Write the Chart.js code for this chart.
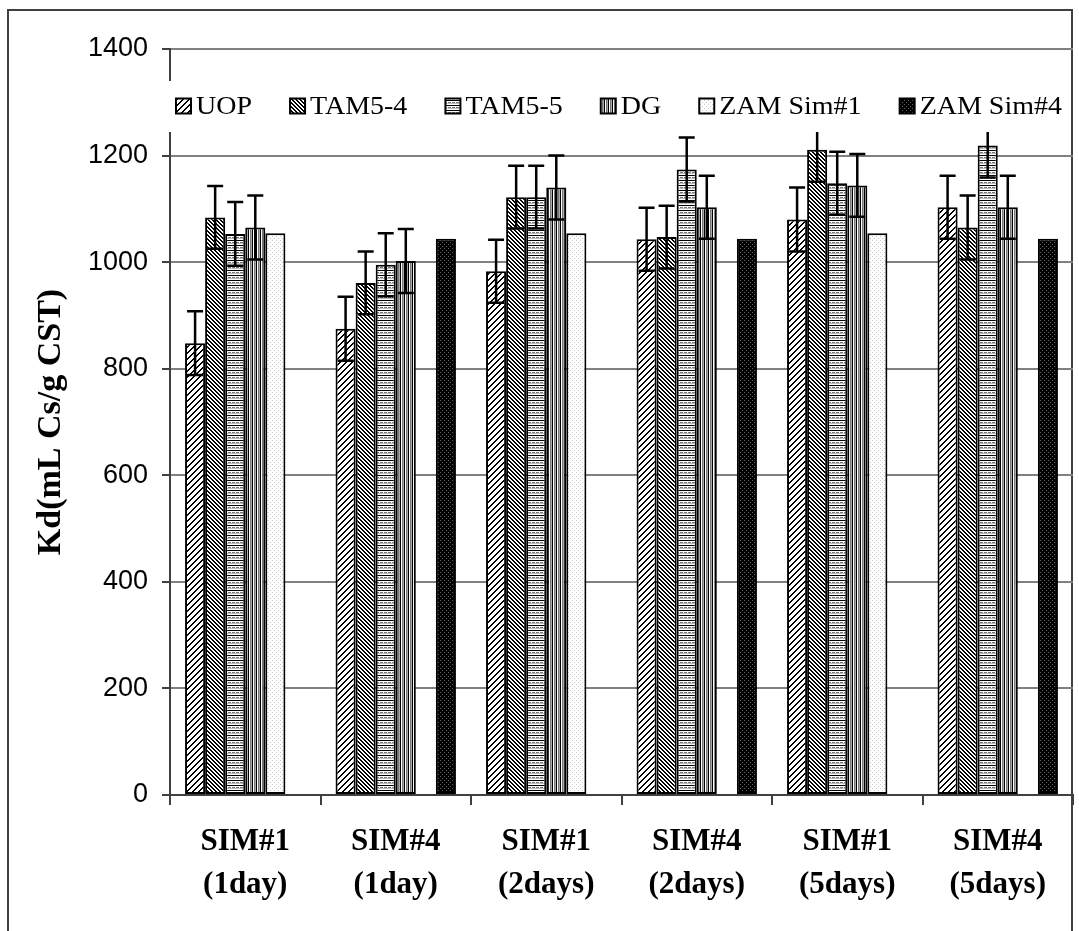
<!DOCTYPE html>
<html>
<head>
<meta charset="utf-8">
<script src="https://cdn.jsdelivr.net/npm/chart.js@4/dist/chart.umd.min.js"></script>
<style>
html,body{margin:0;padding:0;background:#fff;}
#wrap{width:1079px;height:931px;position:relative;}
</style>
</head>
<body>
<div id="wrap"><canvas id="c" width="1079" height="931"></canvas></div>
<script>
// ---- data ----
const categories = [['SIM#1','(1day)'], ['SIM#4','(1day)'], ['SIM#1','(2days)'], ['SIM#4','(2days)'], ['SIM#1','(5days)'], ['SIM#4','(5days)']];
const seriesNames = ['UOP', 'TAM5-4', 'TAM5-5', 'DG', 'ZAM Sim#1', 'ZAM Sim#4'];
const uop      = [848, 875, 983, 1043, 1080, 1103];
const tam54    = [1084, 961, 1122, 1047, 1211, 1065];
const tam55    = [1053, 995, 1122, 1174, 1148, 1219];
const dg       = [1065, 1002, 1140, 1103, 1144, 1103];
const zamSim1  = [1054, null, 1054, null, 1054, null];
const zamSim4  = [null, 1044, null, 1044, null, 1044];
const uopErr   = [60, 60, 59, 59, 60, 59];
const tam54Err = [59, 59, 59, 59, 60, 60];
const tam55Err = [60, 59, 59, 60, 59, 60];
const dgErr    = [60, 60, 60, 59, 59, 59];
const yTicks   = [0, 200, 400, 600, 800, 1000, 1200, 1400];
const yTitle   = 'Kd(mL Cs/g CST)';

// ---- patterns ----
function makePattern(w, h, draw) {
  const c = document.createElement('canvas');
  c.width = w; c.height = h;
  const g = c.getContext('2d');
  draw(g, w, h);
  return g.createPattern(c, 'repeat');
}
const patUOP = makePattern(6, 6, (g, w, h) => {
  g.fillStyle = '#fff'; g.fillRect(0, 0, w, h);
  g.fillStyle = '#000';
  for (let i = 0; i < 6; i++) {
    g.fillRect((5 - i + 6) % 6, i, 2, 1);
    g.fillRect((5 - i + 7) % 6, i, 1, 1);
  }
});
const patTAM54 = makePattern(4, 4, (g, w, h) => {
  g.fillStyle = '#fff'; g.fillRect(0, 0, w, h);
  g.fillStyle = '#000';
  for (let i = 0; i < 4; i++) {
    g.fillRect(i % 4, i, 1, 1);
    g.fillRect((i + 1) % 4, i, 1, 1);
  }
});
const patTAM55 = makePattern(4, 5, (g, w, h) => {
  g.fillStyle = '#fff'; g.fillRect(0, 0, w, h);
  g.fillStyle = '#000'; g.fillRect(0, 0, 4, 1);
  g.fillStyle = '#777'; g.fillRect(0, 2, 3, 1);
  g.fillStyle = '#bbb'; g.fillRect(0, 3, 4, 1);
});
const patDG = makePattern(4, 4, (g, w, h) => {
  g.fillStyle = '#fff'; g.fillRect(0, 0, w, h);
  g.fillStyle = '#000'; g.fillRect(0, 0, 1, 4);
  g.fillStyle = '#777'; g.fillRect(2, 0, 1, 4);
  g.fillStyle = '#aaa'; g.fillRect(3, 0, 1, 4);
});
const patZ1 = makePattern(4, 4, (g, w, h) => {
  g.fillStyle = '#fff'; g.fillRect(0, 0, w, h);
  g.fillStyle = '#c8c8c8'; g.fillRect(0, 0, 1, 1); g.fillRect(2, 2, 1, 1);
});
const patZ4 = makePattern(4, 4, (g, w, h) => {
  g.fillStyle = '#000'; g.fillRect(0, 0, w, h);
  g.fillStyle = '#666'; g.fillRect(0, 0, 1, 1); g.fillRect(2, 2, 1, 1);
});

const values = [uop, tam54, tam55, dg, zamSim1, zamSim4];
const errors = [uopErr, tam54Err, tam55Err, dgErr, null, null];
const fills = [patUOP, patTAM54, patTAM55, patDG, patZ1, patZ4];

const datasets = seriesNames.map((n, i) => ({
  label: n,
  data: values[i],
  errors: errors[i],
  backgroundColor: fills[i],
  borderColor: '#000',
  borderWidth: 2,
  borderSkipped: false,
  categoryPercentage: 0.8,
  barPercentage: 1.0
}));

// ---- plugins ----
const frame = {
  id: 'frame',
  beforeDraw(chart) {
    const g = chart.ctx;
    g.save();
    g.fillStyle = '#fff';
    g.fillRect(0, 0, chart.width, chart.height);
    g.strokeStyle = '#404040';
    g.lineWidth = 2;
    g.beginPath();
    g.moveTo(8, 940); g.lineTo(8, 10); g.lineTo(1072, 10); g.lineTo(1072, 940);
    g.stroke();
    g.restore();
  }
};

const errorBars = {
  id: 'errorBars',
  afterDatasetsDraw(chart) {
    const g = chart.ctx;
    const ys = chart.scales.y;
    g.save();
    g.strokeStyle = '#000';
    g.lineWidth = 2.5;
    chart.data.datasets.forEach((ds, di) => {
      if (!ds.errors) return;
      const meta = chart.getDatasetMeta(di);
      meta.data.forEach((bar, i) => {
        const v = ds.data[i];
        if (v == null) return;
        const e = ds.errors[i];
        const yTop = ys.getPixelForValue(v + e);
        const yBot = ys.getPixelForValue(v - e);
        const x = bar.x;
        g.beginPath();
        g.moveTo(x, yTop); g.lineTo(x, yBot);
        g.moveTo(x - 8, yTop); g.lineTo(x + 8, yTop);
        g.moveTo(x - 8, yBot); g.lineTo(x + 8, yBot);
        g.stroke();
      });
    });
    g.restore();
  }
};

const customLegend = {
  id: 'customLegend',
  afterDraw(chart) {
    const g = chart.ctx;
    const left = 176, right = 1062, cy = 106, box = 15, sx = 1.12;
    g.save();
    g.fillStyle = '#fff';
    g.fillRect(164, 81, 906, 51);
    g.font = '25px "Liberation Serif", "Times New Roman", serif';
    g.textBaseline = 'middle';
    const items = chart.data.datasets.map(ds => ({ label: ds.label, fill: ds.backgroundColor, w: g.measureText(ds.label).width * sx }));
    const textGap = 5;
    const total = items.reduce((s, it) => s + box + textGap + it.w, 0);
    const gap = (right - left - total) / (items.length - 1);
    let x = left;
    items.forEach(it => {
      g.fillStyle = it.fill;
      g.fillRect(x, cy - box / 2, box, box);
      g.strokeStyle = '#000';
      g.lineWidth = 2;
      g.strokeRect(x, cy - box / 2, box, box);
      g.fillStyle = '#000';
      g.save();
      g.translate(x + box + textGap, cy + 1);
      g.scale(sx, 1);
      g.fillText(it.label, 0, 0);
      g.restore();
      x += box + textGap + it.w + gap;
    });
    g.restore();
  }
};

new Chart(document.getElementById('c'), {
  type: 'bar',
  data: { labels: categories, datasets },
  options: {
    responsive: false,
    animation: false,
    layout: { padding: { left: 0, top: 49, right: 6, bottom: 0 } },
    plugins: {
      legend: { display: false },
      tooltip: { enabled: false }
    },
    scales: {
      x: {
        afterFit(s) { s.height = 136; },
        grid: {
          display: true, drawOnChartArea: false, drawTicks: true, offset: true,
          tickLength: 10, color: '#404040', lineWidth: 2
        },
        border: { display: true, color: '#404040', width: 2 },
        ticks: {
          color: '#000', padding: 16,
          font: { family: '"Liberation Serif", "Times New Roman", serif', size: 31, weight: 'bold', lineHeight: 1.38 },
          maxRotation: 0, autoSkip: false
        }
      },
      y: {
        min: 0, max: 1400,
        afterFit(s) { s.width = 170; },
        afterBuildTicks(s) { s.ticks = yTicks.map(v => ({ value: v })); },
        grid: { color: (ctx) => ctx.tick && ctx.tick.value === 0 ? '#404040' : '#808080', lineWidth: 2, tickLength: 8, tickColor: '#404040' },
        border: { display: true, color: '#404040', width: 2 },
        ticks: {
          color: '#000', padding: 14,
          callback: (v) => String(v),
          font: { family: '"Liberation Sans", Arial, sans-serif', size: 27 }
        },
        title: {
          display: true, text: yTitle, color: '#000',
          padding: { top: 31, bottom: 0 },
          font: { family: '"Liberation Serif", "Times New Roman", serif', size: 34, weight: 'bold' }
        }
      }
    }
  },
  plugins: [frame, errorBars, customLegend]
});
</script>
</body>
</html>
